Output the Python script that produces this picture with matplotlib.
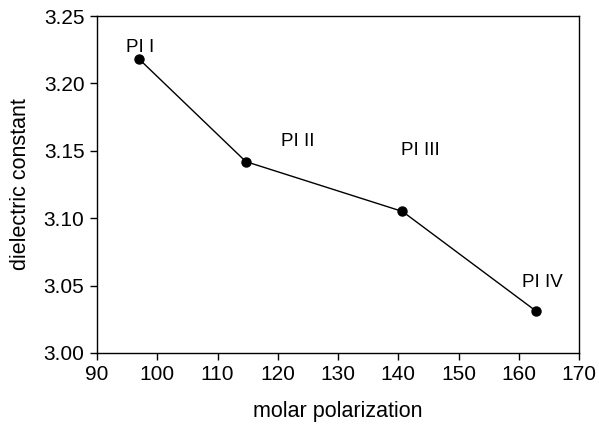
import matplotlib
matplotlib.use("Agg")
import matplotlib.pyplot as plt

plt.rcParams["font.family"] = ["Liberation Sans", "DejaVu Sans"]

# data
molar_pol = [97.0, 114.7, 140.7, 162.9]
dielectric = [3.218, 3.142, 3.105, 3.031]
names = ["PI I", "PI II", "PI III", "PI IV"]
label_x = [97.2, 123.4, 143.6, 164.0]
label_y = [3.227, 3.157, 3.150, 3.052]

fig = plt.figure(figsize=(5.99, 4.28), dpi=100)
ax = fig.add_axes([97 / 599, 1 - 353 / 428, (579 - 97) / 599, (353 - 16) / 428])

ax.plot(molar_pol, dielectric, color="black", lw=1, marker="o", ms=6.5)
for n, x, y in zip(names, label_x, label_y):
    ax.text(x, y, n, fontsize=13.5, ha="center", va="center")

ax.set_xlim(90, 170)
ax.set_ylim(3.00, 3.25)
ax.set_xticks(range(90, 171, 10))
ax.set_yticks([3.00, 3.05, 3.10, 3.15, 3.20, 3.25])
ax.set_yticklabels([f"{v:.2f}" for v in [3.00, 3.05, 3.10, 3.15, 3.20, 3.25]])
ax.tick_params(direction="out", length=5, width=1, labelsize=15, top=False, right=False, pad=4)
for s in ax.spines.values():
    s.set_linewidth(1)

ax.set_xlabel("molar polarization", fontsize=15.5, labelpad=12)
ax.set_ylabel("dielectric constant", fontsize=15.5, labelpad=9)

fig.savefig("out.png", dpi=100)
